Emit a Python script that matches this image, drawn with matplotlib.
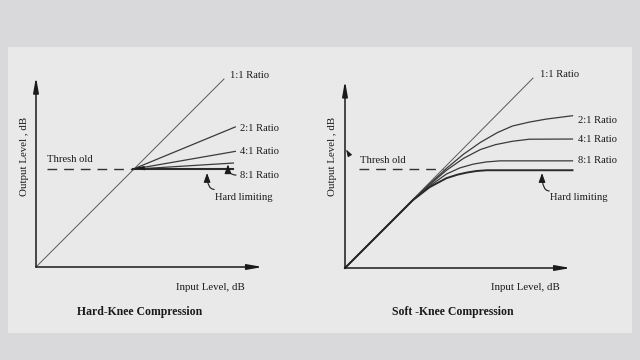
import matplotlib
matplotlib.use("Agg")
import matplotlib.pyplot as plt
from matplotlib.patches import Rectangle

# ---------------- data ----------------
# Hard-knee chart (input dB, output dB)
hk_unity_x = [0, 100]
hk_unity_y = [0, 100]
hk_knee = (51.5, 52)
hk_ratio_labels = ["2:1 Ratio", "4:1 Ratio", "8:1 Ratio"]
hk_ratio_end_x = [106, 106, 105]
hk_ratio_end_y = [74.5, 61.5, 55.3]
hk_limit_end = (105, 52)
hk_threshold = 52

# Soft-knee chart
sk_unity_x = [0, 100]
sk_unity_y = [0, 101]
sk_threshold = 52.5
sk_2_x = [0, 36, 45, 54, 63, 72, 81, 89, 98, 107, 121]
sk_2_y = [0, 36, 44.8, 53.0, 60.5, 66.8, 72.0, 75.5, 77.6, 79.2, 81.0]
sk_4_x = [0, 36, 45, 54, 63, 72, 80, 89, 98, 121]
sk_4_y = [0, 36, 44.3, 52.0, 58.3, 63.0, 65.6, 67.4, 68.5, 68.6]
sk_8_x = [0, 36, 45, 54, 61, 68, 75, 82.5, 121]
sk_8_y = [0, 36, 43.6, 50.0, 53.2, 55.2, 56.4, 57.0, 57.0]
sk_lim_x = [0, 36, 45, 54, 60, 65, 70, 75.5, 121]
sk_lim_y = [0, 36, 43.0, 47.8, 49.7, 50.8, 51.6, 52.0, 52.0]

titles = ["Hard-Knee Compression", "Soft -Knee Compression"]
xlabel = "Input Level, dB"
ylabel = "Output Level , dB"

# ---------------- figure ----------------
W, H = 640, 360
fig = plt.figure(figsize=(6.4, 3.6), dpi=100, facecolor="#d9d9db")
fig.patches.append(Rectangle((8 / W, (H - 333) / H), 624 / W, 286 / H,
                             transform=fig.transFigure, facecolor="#e9e9e9",
                             edgecolor="none", zorder=-5))

SERIF = ["Liberation Serif", "DejaVu Serif"]
S = 1.88  # pixels per dB


def make_axes(ox, oy):
    ax = fig.add_axes([0, 0, 1, 1])
    ax.set_xlim(-ox / S, (W - ox) / S)
    ax.set_ylim(-(H - oy) / S, oy / S)
    ax.set_axis_off()
    ax.patch.set_alpha(0)
    return ax


def axis_arrows(ax, xmax, ymax):
    kw = dict(arrowstyle="-|>,head_length=0.9,head_width=0.16", color="#1a1a1a",
              lw=1.1, shrinkA=0, shrinkB=0, mutation_scale=10)
    ax.annotate("", xy=(0, ymax), xytext=(0, 0), arrowprops=kw)
    ax.annotate("", xy=(xmax, 0), xytext=(0, 0), arrowprops=kw)


def pointer(ax, tip, tail, rad_style="angle3,angleA=0,angleB=90"):
    ax.annotate("", xy=tip, xytext=tail,
                arrowprops=dict(arrowstyle="-|>,head_length=0.55,head_width=0.2",
                                color="#1a1a1a", lw=0.8, shrinkA=0, shrinkB=0,
                                mutation_scale=10, connectionstyle=rad_style))


def txt(ax, x, y, s, **kw):
    d = dict(fontsize=7.6, family=SERIF, color="#1a1a1a", va="center", ha="left")
    d.update(kw)
    ax.text(x, y, s, **d)


# ---------- Left: hard knee ----------
axL = make_axes(36, 267)
axis_arrows(axL, 120.5, 101)
axL.plot(hk_unity_x, hk_unity_y, color="#5a5a5a", lw=0.7)
axL.plot([6, hk_knee[0]], [hk_threshold, hk_threshold], color="#333333", lw=1.0,
         dashes=(7, 5))
for ex, ey in zip(hk_ratio_end_x, hk_ratio_end_y):
    axL.plot([hk_knee[0], ex], [hk_knee[1], ey], color="#3a3a3a", lw=0.9)
axL.plot([hk_knee[0], hk_limit_end[0]], [hk_knee[1], hk_limit_end[1]],
         color="#2a2a2a", lw=1.5)
axL.annotate("", xy=(hk_knee[0] + 1, 52.6), xytext=(hk_knee[0] + 12, 52.6),
             arrowprops=dict(arrowstyle="-|>,head_length=0.9,head_width=0.2",
                             color="#1a1a1a", lw=0.0, shrinkA=0, shrinkB=0,
                             mutation_scale=8))
txt(axL, 103.2, 102.1, "1:1 Ratio")
for lab, y in zip(hk_ratio_labels, [73.9, 61.2, 48.9]):
    txt(axL, 108.5, y, lab)
txt(axL, 5.9, 57.2, "Thresh old")
txt(axL, 95.2, 37.0, "Hard limiting")
pointer(axL, (102.1, 54.6), (106.4, 48.9), "angle3,angleA=0,angleB=90")
pointer(axL, (91.0, 50.0), (94.8, 41.3), "angle3,angleA=0,angleB=90")
txt(axL, 92.6, -11.0, xlabel, ha="center", fontsize=7.8)
txt(axL, -5.9, 59, ylabel, ha="center", rotation=90, fontsize=7.8)
txt(axL, 55.3, -24.0, titles[0], ha="center", fontsize=8.5, weight="bold")

# ---------- Right: soft knee ----------
axR = make_axes(345, 268)
axis_arrows(axR, 120, 99.5)
axR.plot(sk_unity_x, sk_unity_y, color="#5a5a5a", lw=0.7)
axR.plot([7.4, 52], [sk_threshold, sk_threshold], color="#333333", lw=1.0,
         dashes=(7, 5))
for xs, ys in [(sk_2_x, sk_2_y), (sk_4_x, sk_4_y), (sk_8_x, sk_8_y)]:
    axR.plot(xs, ys, color="#3a3a3a", lw=0.9)
axR.plot(sk_lim_x, sk_lim_y, color="#2a2a2a", lw=1.4)
txt(axR, 103.7, 102.7, "1:1 Ratio")
for lab, y in zip(hk_ratio_labels, [78.7, 68.1, 57.4]):
    txt(axR, 123.9, y, lab)
txt(axR, 8.0, 57.4, "Thresh old")
txt(axR, 109.0, 37.5, "Hard limiting")
pointer(axR, (104.8, 50.5), (108.6, 41.0), "angle3,angleA=0,angleB=90")
axR.annotate("", xy=(0.6, 63.0), xytext=(2.4, 60.0),
             arrowprops=dict(arrowstyle="-|>,head_length=0.6,head_width=0.2",
                             color="#1a1a1a", lw=0.6, shrinkA=0, shrinkB=0,
                             mutation_scale=7))
txt(axR, 95.7, -10.6, xlabel, ha="center", fontsize=7.8)
txt(axR, -6.9, 59.6, ylabel, ha="center", rotation=90, fontsize=7.8)
txt(axR, 57.4, -23.4, titles[1], ha="center", fontsize=8.5, weight="bold")

fig.savefig("out.png", dpi=100, facecolor=fig.get_facecolor())
